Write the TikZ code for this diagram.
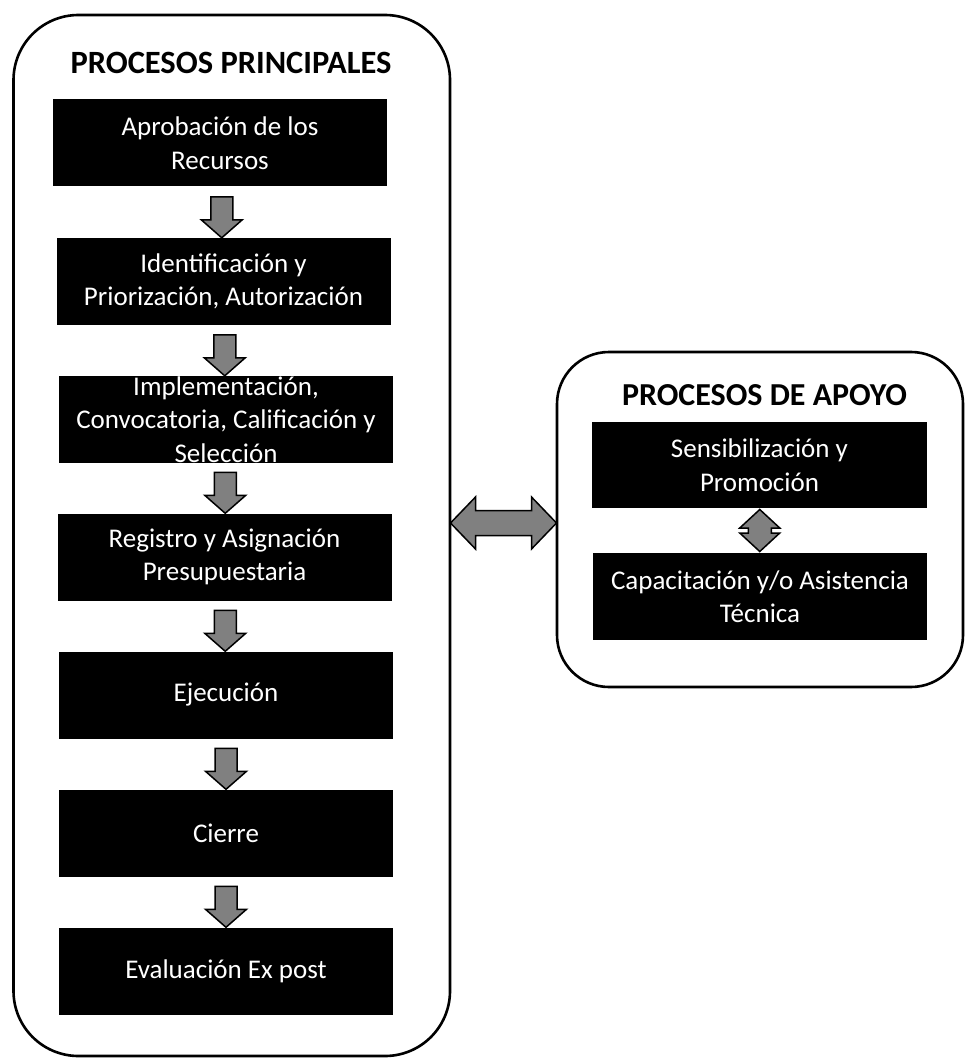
\documentclass[tikz,border=0pt]{standalone}
\usepackage{fontspec}
\setmainfont{Carlito}
\usetikzlibrary{calc}
\definecolor{arrowgray}{RGB}{128,128,128}
\tikzset{
  container/.style={draw=black, line width=2.6pt, rounded corners=#1, inner sep=0pt},
  procbox/.style={fill=black, draw=none, text=white, minimum width=334pt, minimum height=87pt,
    inner sep=0pt, align=center, font=\fontsize{27}{33.5}\selectfont},
  heading/.style={font=\fontsize{32.5}{38}\selectfont\bfseries, inner sep=0pt},
  blockarrow/.style={fill=arrowgray, draw=black, line width=1.5pt, line join=miter},
  pics/dnarrow/.style={code={
    \path[blockarrow] (0,0) -- (-20.5,-18) -- (-11,-18) -- (-11,-41) -- (11,-41) -- (11,-18) -- (20.5,-18) -- cycle;}},
  pics/hdarrow/.style={code={
    \path[blockarrow] (-53,0) -- (-28,-26) -- (-28,-12.5) -- (28,-12.5) -- (28,-26) -- (53,0)
      -- (28,26) -- (28,12.5) -- (-28,12.5) -- (-28,26) -- cycle;}},
  pics/vdarrow/.style={code={
    \path[blockarrow] (0,-21) -- (20,-2.5) -- (11.5,-2.5) -- (11.5,2.5) -- (20,2.5) -- (0,21)
      -- (-20,2.5) -- (-11.5,2.5) -- (-11.5,-2.5) -- (-20,-2.5) -- cycle;}},
}
\begin{document}
\begin{tikzpicture}[x=1pt,y=-1pt]
\useasboundingbox (0,0) rectangle (965,1059);
% containers
\node[container=65pt, minimum width=436.5pt, minimum height=1041pt] (main) at (231.75,535.5) {};
\node[container=52pt, minimum width=406pt, minimum height=335pt] (sup) at (760,519.5) {};
% headings
\node[heading] (t1) at (231,63) {PROCESOS PRINCIPALES};
\node[heading, font=\fontsize{32}{38}\selectfont\bfseries] (t2) at (764.5,395) {PROCESOS DE APOYO};
% main process boxes
\node[procbox] (b1) at (220,143) {Aprobación de los\\Recursos};
\node[procbox] (b2) at (223.5,281.5) {Identificación y\\Priorización, Autorización};
\node[procbox] (b3) at (226,419.5) {Implementación,\\Convocatoria, Calificación y\\Selección};
\node[procbox] (b4) at (224.5,557) {Registro y Asignación\\Presupuestaria};
\node[procbox] (b5) at (226,695) {Ejecución};
\node[procbox] (b6) at (226,833) {Cierre};
\node[procbox] (b7) at (226,971) {Evaluación Ex post};
% support boxes
\node[procbox, minimum width=335pt, minimum height=86pt] (s1) at (759.5,465) {Sensibilización y\\Promoción};
\node[procbox] (s2) at (760,596.5) {Capacitación y/o Asistencia\\Técnica};
% down arrows
\foreach \a/\b in {b1/b2,b2/b3,b3/b4,b4/b5,b5/b6,b6/b7}{
  \coordinate (mid) at ($(\a.south)!0.5!(\b.north)$);
  \pic at (mid |- \b.north) {dnarrow};
}
% double arrows
\coordinate (lv) at (0,523);
\coordinate (hl) at (main.east |- lv);
\coordinate (hr) at (sup.west |- lv);
\pic at ($(hl)!0.5!(hr)$) {hdarrow};
\pic at ($(s1.south)!0.5!(s2.north)$) {vdarrow};
\end{tikzpicture}
\end{document}
